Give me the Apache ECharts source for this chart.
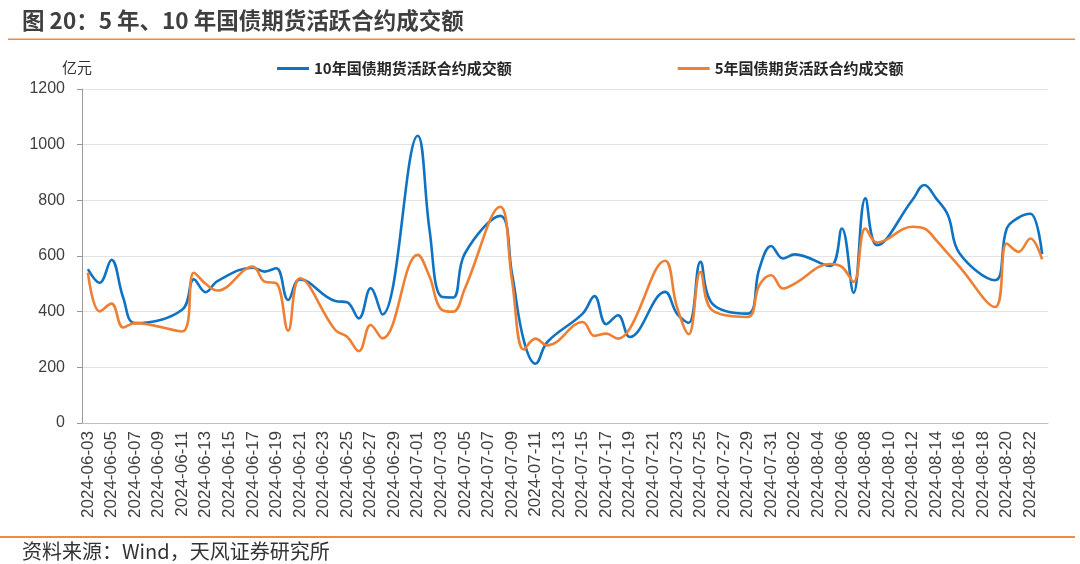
<!DOCTYPE html>
<html>
<head>
<meta charset="utf-8">
<script src="https://cdn.jsdelivr.net/npm/echarts/dist/echarts.min.js"></script>
<style>
  html, body { margin: 0; padding: 0; background: #fff; }
  #chart { width: 1080px; height: 564px; }
</style>
</head>
<body>
<div id="chart"></div>
<script>
// 交易日与成交额（亿元），读自原图
const tradeDates = [
  '2024-06-03', '2024-06-04', '2024-06-05', '2024-06-06', '2024-06-07',
  '2024-06-11', '2024-06-12', '2024-06-13', '2024-06-14',
  '2024-06-17', '2024-06-18', '2024-06-19', '2024-06-20', '2024-06-21',
  '2024-06-24', '2024-06-25', '2024-06-26', '2024-06-27', '2024-06-28',
  '2024-07-01', '2024-07-02', '2024-07-03', '2024-07-04', '2024-07-05',
  '2024-07-08', '2024-07-09', '2024-07-10', '2024-07-11', '2024-07-12',
  '2024-07-15', '2024-07-16', '2024-07-17', '2024-07-18', '2024-07-19',
  '2024-07-22', '2024-07-23', '2024-07-24', '2024-07-25', '2024-07-26',
  '2024-07-29', '2024-07-30', '2024-07-31', '2024-08-01', '2024-08-02',
  '2024-08-05', '2024-08-06', '2024-08-07', '2024-08-08', '2024-08-09',
  '2024-08-12', '2024-08-13', '2024-08-14', '2024-08-15', '2024-08-16',
  '2024-08-19', '2024-08-20', '2024-08-21', '2024-08-22', '2024-08-23'
]
const bond10 = [
  553, 504, 586, 450, 359,
  407, 516, 470, 510,
  558, 544, 556, 442, 516,
  438, 434, 376, 484, 390,
  1032, 694, 454, 451, 609,
  744, 537, 297, 213, 291,
  393, 456, 355, 387, 309,
  471, 393, 360, 579, 429,
  393, 555, 636, 591, 606,
  564, 699, 468, 807, 639,
  802, 855, 807, 747, 609,
  513, 699, 738, 752, 607
]
const bond5 = [
  540, 401, 429, 343, 359,
  329, 540, 500, 476,
  562, 508, 502, 332, 520,
  334, 310, 258, 352, 304,
  604, 526, 408, 400, 483,
  777, 513, 264, 303, 279,
  363, 313, 321, 303, 339,
  583, 417, 319, 543, 405,
  381, 495, 531, 483, 501,
  571, 561, 507, 699, 648,
  705, 699, 657, 609, 561,
  417, 645, 615, 663, 588
]
const yTicks = [0, 200, 400, 600, 800, 1000, 1200]
const firstDay = '2024-06-03'
const lastDay = '2024-08-23'

// x 轴按自然日排列
function buildDays(start, end) {
  const out = []
  let t = Date.parse(start + 'T00:00:00Z')
  const stop = Date.parse(end + 'T00:00:00Z')
  while (t <= stop) {
    out.push(new Date(t).toISOString().slice(0, 10))
    t += 86400000
  }
  return out
}
const days = buildDays(firstDay, lastDay)

const font = '"Liberation Sans", Arial, sans-serif'
const cjk = '"Noto Sans CJK SC", "Liberation Sans", sans-serif'

let mycharts = echarts.init(document.getElementById('chart'))
mycharts.setOption({
  animation: false,
  backgroundColor: '#fff',
  graphic: [
    {
      type: 'text', left: 22, top: 9,
      style: { text: '图 20：5 年、10 年国债期货活跃合约成交额', font: 'bold 22.5px ' + cjk, fill: '#3f3f3f' }
    },
    {
      type: 'rect', shape: { x: 8, y: 38.5, width: 1067, height: 1.5 },
      style: { fill: '#F08A3C' }
    },
    {
      type: 'text', left: 62, top: 60,
      style: { text: '亿元', font: '15px ' + cjk, fill: '#333' }
    },
    {
      type: 'rect', shape: { x: 0, y: 536, width: 1075, height: 2 },
      style: { fill: '#F08A3C' }
    },
    {
      type: 'text', left: 22, top: 541,
      style: { text: '资料来源：Wind，天风证券研究所', font: '20px ' + cjk, fill: '#333' }
    }
  ],
  legend: {
    top: 61,
    left: 277,
    padding: 0,
    itemWidth: 32,
    itemHeight: 3,
    itemGap: 166,
    icon: 'rect',
    textStyle: { fontSize: 15, fontWeight: 'bold', color: '#262626', fontFamily: cjk },
    data: ['10年国债期货活跃合约成交额', '5年国债期货活跃合约成交额']
  },
  grid: { left: 82, right: 32, top: 89, bottom: 141 },
  xAxis: {
    type: 'category',
    data: days,
    boundaryGap: true,
    axisLine: { lineStyle: { color: '#bfbfbf' } },
    axisTick: { interval: 1, length: 5, lineStyle: { color: '#bfbfbf' } },
    axisLabel: { interval: 1, rotate: 90, fontSize: 17, color: '#404040', fontFamily: font, margin: 8 }
  },
  yAxis: {
    type: 'value',
    min: yTicks[0],
    max: yTicks[yTicks.length - 1],
    interval: 200,
    axisLine: { show: true, lineStyle: { color: '#999' } },
    axisTick: { show: true, length: 5, inside: false, lineStyle: { color: '#999' } },
    axisLabel: { fontSize: 16, color: '#404040', fontFamily: font, margin: 17, formatter: v => String(v) },
    splitLine: { lineStyle: { color: '#e3e3e3' } }
  },
  series: [
    {
      name: '10年国债期货活跃合约成交额',
      type: 'line',
      smooth: 0.4,
      showSymbol: false,
      color: '#0F72C2',
      lineStyle: { width: 2.6 },
      data: tradeDates.map((d, k) => [d, bond10[k]])
    },
    {
      name: '5年国债期货活跃合约成交额',
      type: 'line',
      smooth: 0.4,
      showSymbol: false,
      color: '#EE7F33',
      lineStyle: { width: 2.6 },
      data: tradeDates.map((d, k) => [d, bond5[k]])
    }
  ]
})
</script>
</body>
</html>
